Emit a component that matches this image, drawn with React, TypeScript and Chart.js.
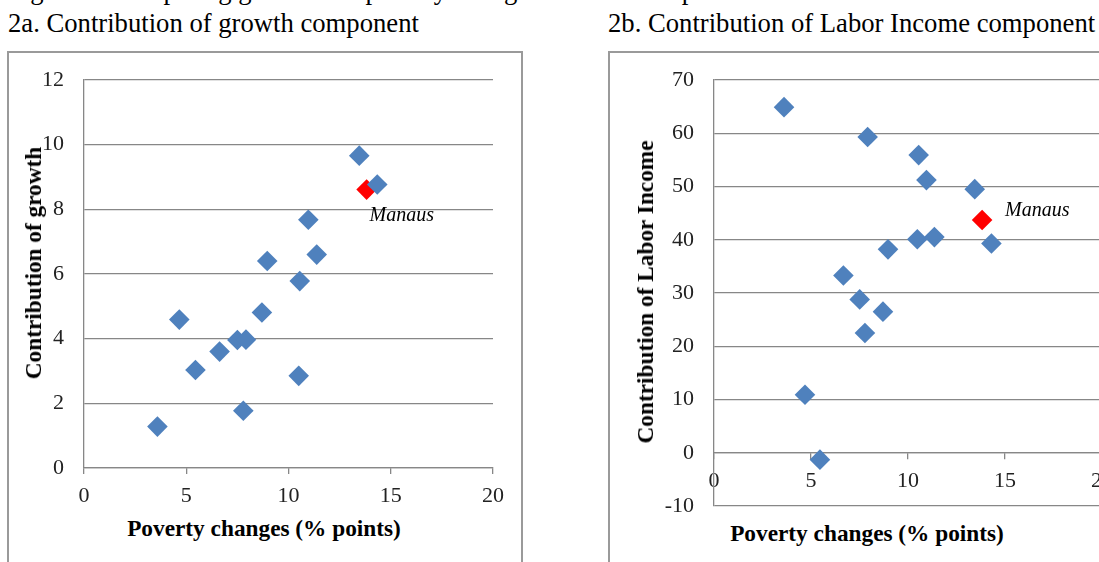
import React, { useEffect, useRef } from "react";
import { Chart, registerables } from "chart.js";

Chart.register(...registerables);

// ---- data ----
const povertyA = [3.59, 4.66, 5.45, 6.63, 7.5, 7.79, 7.92, 8.7, 8.96, 10.5, 10.55, 10.97, 11.38, 13.46, 14.34];
const growthA = [1.28, 4.59, 3.03, 3.6, 3.96, 1.77, 3.97, 4.81, 6.4, 2.85, 5.78, 7.68, 6.6, 9.66, 8.77];
const povertyB = [3.61, 4.69, 5.46, 6.67, 7.51, 7.78, 7.92, 8.71, 8.97, 10.48, 10.55, 10.95, 11.36, 13.44, 14.3];
const laborB = [64.9, 10.9, -1.3, 33.3, 28.8, 22.5, 59.3, 26.5, 38.2, 40.1, 55.9, 51.2, 40.5, 49.5, 39.3];
const manausPoverty = 13.82;
const manausGrowth = 8.61;
const manausLabor = 43.7;
const manausLabel = "Manaus";
const xTickValues = [0, 5, 10, 15, 20];
const yTickValuesA = [0, 2, 4, 6, 8, 10, 12];
const yTickValuesB = [-10, 0, 10, 20, 30, 40, 50, 60, 70];

const BLUE = "#4F81BD";
const RED = "#FF0000";
const GRID = "#878787";
const FONT = "'Liberation Serif', 'Times New Roman', serif";

function labelPlugin(dx: number, dy: number) {
  return {
    id: "manausLabel",
    afterDatasetsDraw(chart: any) {
      const meta = chart.getDatasetMeta(1);
      const el = meta && meta.data && meta.data[0];
      if (!el) return;
      const ctx = chart.ctx;
      ctx.save();
      ctx.font = `italic 20px ${FONT}`;
      ctx.fillStyle = "#000";
      ctx.textAlign = "left";
      ctx.textBaseline = "middle";
      ctx.fillText(manausLabel, el.x + dx, el.y + dy);
      ctx.restore();
    },
  };
}

function makeConfig(
  xs: number[],
  ys: number[],
  mx: number,
  my: number,
  yTicks: number[],
  yWidth: number,
  xAtZero: boolean,
  dx: number,
  dy: number,
  padding: any
): any {
  const tickFont = { family: FONT, size: 22 };
  return {
    type: "scatter",
    data: {
      datasets: [
        {
          data: xs.map((x, i) => ({ x, y: ys[i] })),
          backgroundColor: BLUE,
          borderWidth: 0,
          pointStyle: "rectRot",
          pointRadius: 10.3,
        },
        {
          data: [{ x: mx, y: my }],
          backgroundColor: RED,
          borderWidth: 0,
          pointStyle: "rectRot",
          pointRadius: 10.3,
        },
      ],
    },
    options: {
      responsive: false,
      animation: false,
      events: [],
      layout: { padding },
      plugins: { legend: { display: false }, tooltip: { enabled: false } },
      scales: {
        x: {
          type: "linear",
          position: xAtZero ? { y: 0 } : "bottom",
          min: xTickValues[0],
          max: xTickValues[xTickValues.length - 1],
          afterBuildTicks: (s: any) => {
            s.ticks = xTickValues.map((v) => ({ value: v }));
          },
          afterFit: (s: any) => {
            s.height = 40;
          },
          grid: {
            drawOnChartArea: false,
            drawTicks: true,
            tickLength: 6,
            color: GRID,
            lineWidth: 1.3,
          },
          border: { display: true, color: GRID, width: 1.3 },
          ticks: { font: tickFont, color: "#222", padding: 9, maxRotation: 0, autoSkip: false },
        },
        y: {
          type: "linear",
          min: yTicks[0],
          max: yTicks[yTicks.length - 1],
          afterBuildTicks: (s: any) => {
            s.ticks = yTicks.map((v) => ({ value: v }));
          },
          afterFit: (s: any) => {
            s.width = yWidth;
          },
          grid: {
            drawTicks: true,
            tickLength: 20,
            tickColor: "rgba(0,0,0,0)",
            color: GRID,
            lineWidth: 1.3,
          },
          border: { display: true, color: GRID, width: 1.3 },
          ticks: { font: tickFont, color: "#222", padding: 0, autoSkip: false },
        },
      },
    },
    plugins: [labelPlugin(dx, dy)],
  };
}

function ScatterPanel(props: { cfg: () => any; width: number; height: number; style: any }) {
  const ref = useRef<HTMLCanvasElement | null>(null);
  useEffect(() => {
    if (!ref.current) return;
    const chart = new Chart(ref.current, props.cfg());
    return () => chart.destroy();
  }, []);
  return (
    <canvas
      ref={ref}
      width={props.width}
      height={props.height}
      style={{ position: "absolute", display: "block", width: props.width, height: props.height, ...props.style }}
    />
  );
}

const titleStyle: any = {
  position: "absolute",
  fontFamily: FONT,
  fontSize: "26.67px",
  lineHeight: "30px",
  whiteSpace: "nowrap",
  color: "#000",
};

const axisTitle: any = {
  position: "absolute",
  fontFamily: FONT,
  fontSize: "23.3px",
  fontWeight: "bold",
  whiteSpace: "nowrap",
  color: "#000",
  lineHeight: "26px",
};

export default function App() {
  return (
    <div
      style={{
        position: "fixed",
        left: 0,
        top: 0,
        width: 1099,
        height: 562,
        overflow: "hidden",
        background: "#fff",
      }}
    >
      <div style={{ ...titleStyle, left: 8, top: -25 }}>
        Figure 2: Comparing growth and poverty changes across metropolitan areas
      </div>
      <div style={{ ...titleStyle, left: 8, top: 8 }}>2a. Contribution of growth component</div>
      <div style={{ ...titleStyle, left: 608, top: 8 }}>2b. Contribution of Labor Income component</div>

      <div
        style={{
          position: "absolute",
          left: 7,
          top: 51,
          width: 516,
          height: 620,
          border: "2px solid #9a9a9a",
          boxSizing: "border-box",
        }}
      />
      <div
        style={{
          position: "absolute",
          left: 608,
          top: 51,
          width: 620,
          height: 620,
          border: "2px solid #9a9a9a",
          boxSizing: "border-box",
        }}
      />

      <ScatterPanel
        width={512}
        height={455}
        style={{ left: 9, top: 53 }}
        cfg={() =>
          makeConfig(povertyA, growthA, manausPoverty, manausGrowth, yTickValuesA, 75, false, 3, 26, {
            left: 0,
            top: 27,
            right: 28,
            bottom: 0,
          })
        }
      />
      <ScatterPanel
        width={520}
        height={467}
        style={{ left: 610, top: 53 }}
        cfg={() =>
          makeConfig(povertyB, laborB, manausPoverty, manausLabor, yTickValuesB, 104, true, 23, -9, {
            left: 0,
            top: 27,
            right: 28,
            bottom: 14,
          })
        }
      />

      <div style={{ ...axisTitle, left: 264, top: 528, transform: "translate(-50%, -50%)" }}>
        Poverty changes (% points)
      </div>
      <div style={{ ...axisTitle, left: 867, top: 533, transform: "translate(-50%, -50%)" }}>
        Poverty changes (% points)
      </div>
      <div
        style={{
          ...axisTitle,
          left: 33,
          top: 263,
          transform: "translate(-50%, -50%) rotate(-90deg)",
        }}
      >
        Contribution of growth
      </div>
      <div
        style={{
          ...axisTitle,
          left: 645,
          top: 292,
          transform: "translate(-50%, -50%) rotate(-90deg)",
        }}
      >
        Contribution of Labor Income
      </div>
    </div>
  );
}
